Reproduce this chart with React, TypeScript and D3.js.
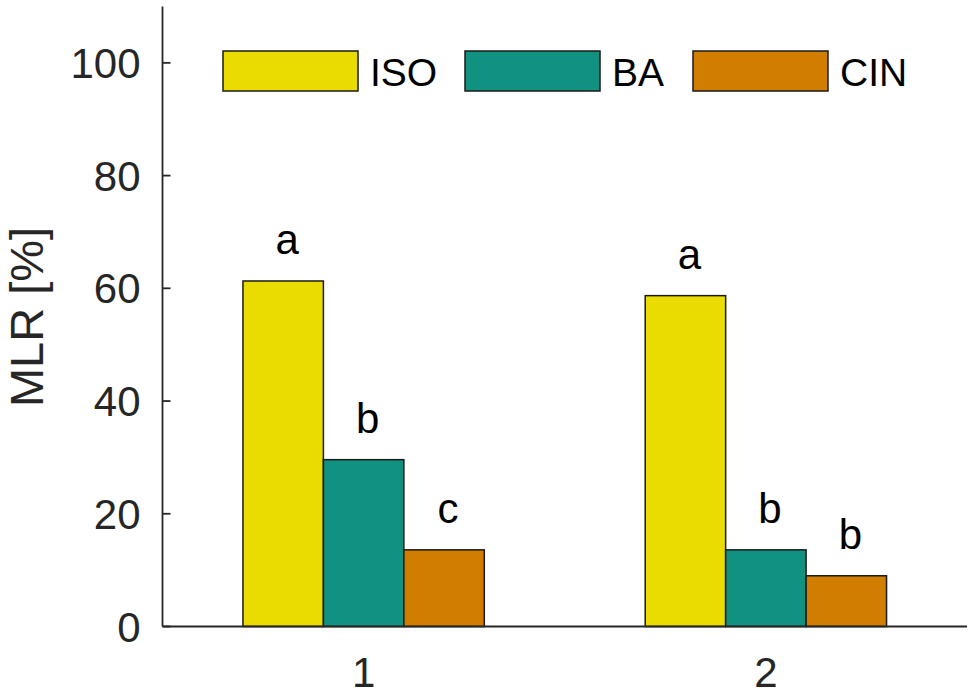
import { useEffect, useRef } from 'react';
import * as d3 from 'd3';

const groups = [1, 2];
const seriesNames = ['ISO', 'BA', 'CIN'];
const isoValues = [61.3, 58.7];
const baValues = [29.6, 13.6];
const cinValues = [13.6, 9.0];
const letterLabels = [
  ['a', 'b', 'c'],
  ['a', 'b', 'b'],
];
const yTicks = [0, 20, 40, 60, 80, 100];

const colors = ['#ebdc00', '#119180', '#d17d00'];
const FONT = '"Liberation Sans", Arial, Helvetica, sans-serif';

export default function App() {
  const svgRef = useRef<SVGSVGElement>(null);

  useEffect(() => {
    document.body.style.margin = '0';
    if (!svgRef.current) return;
    const svg = d3.select(svgRef.current);
    svg.selectAll('*').remove();

    const width = 974;
    const height = 697;
    const axisColor = '#262626';

    const x = d3.scaleLinear().domain([0.5, 2.5]).range([162.5, 967]);
    const y = d3.scaleLinear().domain([0, 110]).range([626.5, 6.5]);

    svg.append('rect').attr('width', width).attr('height', height).attr('fill', '#fff');

    const series = [isoValues, baValues, cinValues];
    const barW = 0.2;

    // bars
    series.forEach((vals, si) => {
      svg.append('g')
        .selectAll('rect')
        .data(vals)
        .enter().append('rect')
        .attr('x', (_d, gi) => x(groups[gi] - 0.3 + si * barW))
        .attr('width', x(barW) - x(0))
        .attr('y', d => y(d))
        .attr('height', d => y(0) - y(d))
        .attr('fill', colors[si])
        .attr('stroke', '#1a1a1a')
        .attr('stroke-width', 1.5);

      // significance letters
      svg.append('g')
        .selectAll('text')
        .data(vals)
        .enter().append('text')
        .attr('x', (_d, gi) => x(groups[gi] - 0.2 + si * barW) + 4)
        .attr('y', d => y(d) - 27)
        .attr('text-anchor', 'middle')
        .style('font-family', FONT)
        .style('font-size', '42px')
        .attr('fill', '#000')
        .text((_d, gi) => letterLabels[gi][si]);
    });

    // y axis
    const yAxis = svg.append('g').attr('transform', `translate(${x(0.5)},0)`);
    yAxis.append('line')
      .attr('y1', y(110)).attr('y2', y(0))
      .attr('stroke', axisColor).attr('stroke-width', 1.8);
    const yt = yAxis.selectAll('.yt').data(yTicks).enter().append('g')
      .attr('class', 'yt')
      .attr('transform', d => `translate(0,${y(d)})`);
    yt.append('line').attr('x2', 8).attr('stroke', axisColor).attr('stroke-width', 1.8);
    yt.append('text')
      .attr('x', -22)
      .attr('dy', '0.36em')
      .attr('text-anchor', 'end')
      .style('font-family', FONT)
      .style('font-size', '42px')
      .attr('fill', axisColor)
      .text(d => d3.format('d')(d));

    // x axis
    svg.append('line')
      .attr('x1', x(0.5)).attr('x2', x(2.5))
      .attr('y1', y(0)).attr('y2', y(0))
      .attr('stroke', axisColor).attr('stroke-width', 1.8);
    svg.append('g')
      .selectAll('text')
      .data(groups)
      .enter().append('text')
      .attr('x', d => x(d))
      .attr('y', 687)
      .attr('text-anchor', 'middle')
      .style('font-family', FONT)
      .style('font-size', '42px')
      .attr('fill', axisColor)
      .text(d => String(d));

    // y label
    svg.append('text')
      .attr('transform', `translate(43,317) rotate(-90)`)
      .attr('text-anchor', 'middle')
      .style('font-family', FONT)
      .style('font-size', '47px')
      .attr('fill', axisColor)
      .text('MLR [%]');

    // legend
    const legendX = [223, 465, 693];
    const legend = svg.append('g')
      .selectAll('g')
      .data(seriesNames)
      .enter().append('g')
      .attr('transform', (_d, i) => `translate(${legendX[i]},51)`);
    legend.append('rect')
      .attr('width', 135)
      .attr('height', 40)
      .attr('fill', (_d, i) => colors[i])
      .attr('stroke', '#1a1a1a')
      .attr('stroke-width', 1.5);
    legend.append('text')
      .attr('x', 147)
      .attr('y', 35)
      .style('font-family', FONT)
      .style('font-size', '39px')
      .attr('fill', '#000')
      .text(d => d);
  }, []);

  return <svg ref={svgRef} width={974} height={697} style={{ display: 'block' }} />;
}
